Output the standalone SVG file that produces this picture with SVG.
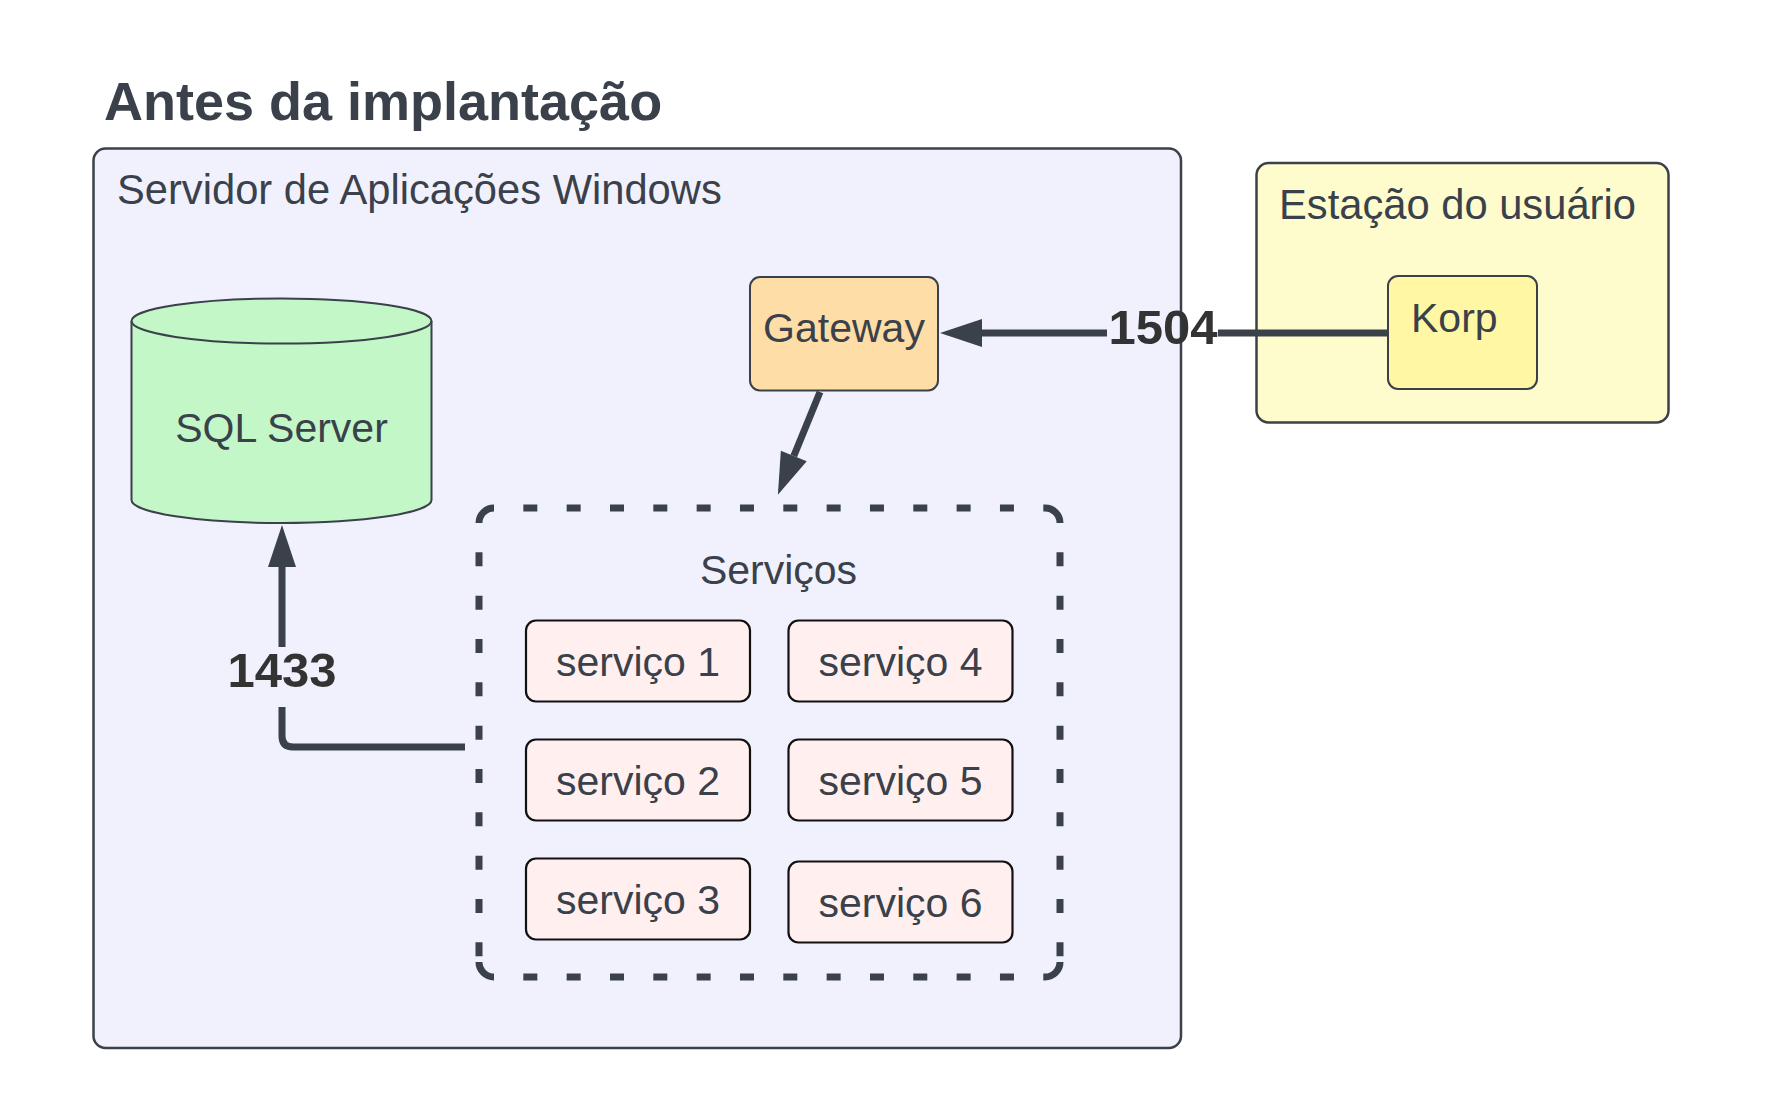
<svg xmlns="http://www.w3.org/2000/svg" width="1766" height="1112" viewBox="0 0 1766 1112">
<style>
text{font-family:"Liberation Sans",Arial,sans-serif;fill:#3a414a;font-size:41px}
.title{font-size:54px;font-weight:bold}
.lbl{font-size:41.7px}
.port{font-size:49px;font-weight:bold;fill:#333333;text-anchor:middle}
.mid{text-anchor:middle}
.cont{stroke:#3a414a;stroke-width:2.5}
.node{stroke:#3a414a;stroke-width:2}
.svc{fill:#fff0ef;stroke:#111111;stroke-width:2.2}
.conn{fill:none;stroke:#3a414a;stroke-width:7}
.dash{fill:none;stroke:#3a414a;stroke-width:7;stroke-dasharray:14 29.33;stroke-dashoffset:14}
.corner{fill:none;stroke:#3a414a;stroke-width:7}
</style>
<defs>
<marker id="arr" markerUnits="userSpaceOnUse" markerWidth="44" markerHeight="30" refX="0" refY="14" orient="auto" overflow="visible">
<path d="M0,0 L42,14 L0,28 Z" fill="#3a414a"/>
</marker>
</defs>
<rect width="1766" height="1112" fill="#ffffff"/>
<text class="title" x="104" y="120">Antes da implantação</text>

<g id="servidor">
<rect class="cont" x="93.5" y="148.5" width="1087.5" height="899.5" rx="12" fill="#f1f1fe"/>
<text class="lbl" x="117" y="204">Servidor de Aplicações Windows</text>
</g>

<g id="estacao">
<rect class="cont" x="1256.5" y="163" width="412" height="259.5" rx="12" fill="#fefccd"/>
<text class="lbl" x="1279" y="219">Estação do usuário</text>
</g>

<g id="korp">
<rect class="node" x="1388" y="276" width="149" height="113" rx="10" fill="#fff7a3"/>
<text x="1411" y="332">Korp</text>
</g>

<g id="gateway">
<rect class="node" x="750" y="277" width="188" height="113.5" rx="10" fill="#ffdda6"/>
<text class="mid" x="844" y="342">Gateway</text>
</g>

<g id="sqlserver">
<path class="node" d="M131.5,321 L131.5,500 A150,23 0 0 0 431.5,500 L431.5,321 A150,22.5 0 0 0 131.5,321 Z" fill="#c3f7c8"/>
<path class="node" d="M131.5,321 A150,22.5 0 0 0 431.5,321" fill="none"/>
<text class="mid" x="281.5" y="442">SQL Server</text>
</g>

<g id="servicos">
<path class="corner" d="M479,523 A15,15 0 0 1 494,508 M1045,508 A15,15 0 0 1 1060,523 M1060,962 A15,15 0 0 1 1045,977 M494,977 A15,15 0 0 1 479,962"/>
<path class="dash" d="M494,508 L1045,508"/>
<path class="dash" d="M494,977 L1045,977"/>
<path class="dash" d="M479,523 L479,962"/>
<path class="dash" d="M1060,523 L1060,962"/>
<text class="mid" x="778.5" y="584">Serviços</text>
</g>

<g id="servico1">
<rect class="svc" x="526" y="620.5" width="224" height="81" rx="10"/>
<text class="mid" x="638" y="675.5">serviço 1</text>
</g>
<g id="servico2">
<rect class="svc" x="526" y="739.5" width="224" height="81" rx="10"/>
<text class="mid" x="638" y="794.5">serviço 2</text>
</g>
<g id="servico3">
<rect class="svc" x="526" y="858.5" width="224" height="81" rx="10"/>
<text class="mid" x="638" y="913.5">serviço 3</text>
</g>
<g id="servico4">
<rect class="svc" x="788.5" y="620.5" width="224" height="81" rx="10"/>
<text class="mid" x="900.5" y="675.5">serviço 4</text>
</g>
<g id="servico5">
<rect class="svc" x="788.5" y="739.5" width="224" height="81" rx="10"/>
<text class="mid" x="900.5" y="794.5">serviço 5</text>
</g>
<g id="servico6">
<rect class="svc" x="788.5" y="861.5" width="224" height="81" rx="10"/>
<text class="mid" x="900.5" y="917">serviço 6</text>
</g>

<g id="connectors">
<path class="conn" d="M1388,333 L1218,333"/>
<path class="conn" d="M1107,333 L982,333" marker-end="url(#arr)"/>
<text class="port" x="1163" y="344">1504</text>
<path class="conn" d="M820,392 L793.8,456" marker-end="url(#arr)"/>
<path class="conn" d="M465,747 L293,747 Q282,747 282,736 L282,707"/>
<path class="conn" d="M282,647 L282,567" marker-end="url(#arr)"/>
<text class="port" x="282" y="687">1433</text>
</g>
</svg>
